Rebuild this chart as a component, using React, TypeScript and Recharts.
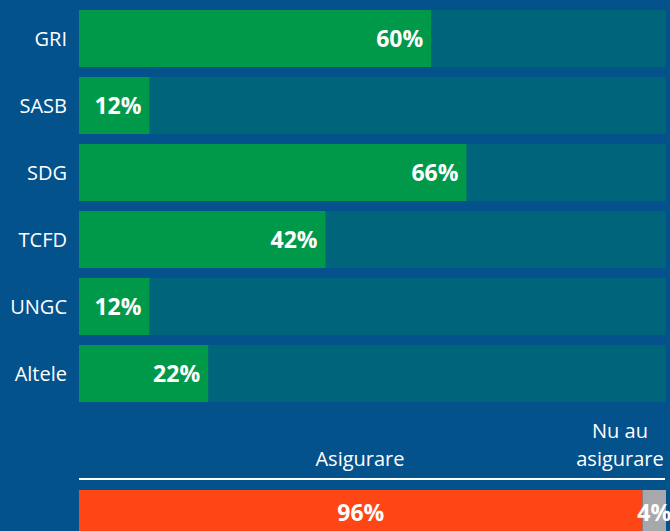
import React from 'react';
import { BarChart, Bar, XAxis, YAxis, LabelList } from 'recharts';

const categories = ['GRI', 'SASB', 'SDG', 'TCFD', 'UNGC', 'Altele'];
const shares = [60, 12, 66, 42, 12, 22];

const assuranceLabels = ['Asigurare', 'Nu au asigurare'];
const assuranceShares = [96, 4];

const topData = categories.map((name, i) => ({ name, value: shares[i] }));
const bottomData = [{ name: 'total', insured: assuranceShares[0], uninsured: assuranceShares[1] }];

const BG = '#04528b';
const TRACK = '#00657a';
const GREEN = '#00994a';
const ORANGE = '#ff4614';
const GRAY = '#a6a8ab';
const FONT = '"Open Sans", "Noto Sans", sans-serif';

const CategoryTick = (props: any) => {
    const { x, y, payload } = props;
    return (
        <text x={x} y={y} dy="0.35em" textAnchor="end" fill="#fff" fontSize={20} fontFamily={FONT}>
            {payload.value}
        </text>
    );
};

const pct = (v: any) => `${v}%`;

const App: React.FC = () => {
    return (
        <div style={{
            position: 'absolute',
            left: 0,
            top: 0,
            width: 670,
            height: 531,
            background: BG,
            overflow: 'hidden',
            fontFamily: FONT
        }}>
            <BarChart
                width={670}
                height={412}
                data={topData}
                layout="vertical"
                margin={{ top: 5, right: 4, bottom: 5, left: 0 }}
                barCategoryGap={0}
            >
                <XAxis type="number" domain={[0, 100]} hide />
                <YAxis
                    type="category"
                    dataKey="name"
                    width={79}
                    axisLine={false}
                    tickLine={false}
                    tickSize={0}
                    tickMargin={12}
                    tick={<CategoryTick />}
                />
                <Bar
                    dataKey="value"
                    fill={GREEN}
                    barSize={57}
                    background={{ fill: TRACK }}
                    isAnimationActive={false}
                >
                    <LabelList
                        dataKey="value"
                        position="insideRight"
                        offset={8}
                        formatter={pct}
                        fill="#fff"
                        fontSize={23}
                        fontWeight="bold"
                        fontFamily={FONT}
                    />
                </Bar>
            </BarChart>

            <div style={{
                position: 'absolute',
                left: 260,
                width: 200,
                top: 445,
                textAlign: 'center',
                color: '#fff',
                fontSize: 20,
                lineHeight: '28px'
            }}>
                {assuranceLabels[0]}
            </div>
            <div style={{
                position: 'absolute',
                left: 560,
                width: 120,
                top: 417,
                textAlign: 'center',
                color: '#fff',
                fontSize: 20,
                lineHeight: '28px'
            }}>
                Nu au<br />asigurare
            </div>
            <div style={{
                position: 'absolute',
                left: 79,
                width: 586,
                top: 478,
                height: 2,
                background: '#fff'
            }} />

            <div style={{ position: 'absolute', left: 0, top: 480 }}>
                <BarChart
                    width={670}
                    height={70}
                    data={bottomData}
                    layout="vertical"
                    margin={{ top: 7, right: 4, bottom: 13, left: 79 }}
                    barCategoryGap={0}
                >
                    <XAxis type="number" domain={[0, 100]} hide />
                    <YAxis type="category" dataKey="name" hide />
                    <Bar dataKey="insured" stackId="a" fill={ORANGE} barSize={50} isAnimationActive={false}>
                        <LabelList dataKey="insured" position="center" formatter={pct} fill="#fff" fontSize={23} fontWeight="bold" fontFamily={FONT} />
                    </Bar>
                    <Bar dataKey="uninsured" stackId="a" fill={GRAY} barSize={50} isAnimationActive={false}>
                        <LabelList dataKey="uninsured" position="center" formatter={pct} fill="#fff" fontSize={23} fontWeight="bold" fontFamily={FONT} />
                    </Bar>
                </BarChart>
            </div>
        </div>
    );
};

export default App;
